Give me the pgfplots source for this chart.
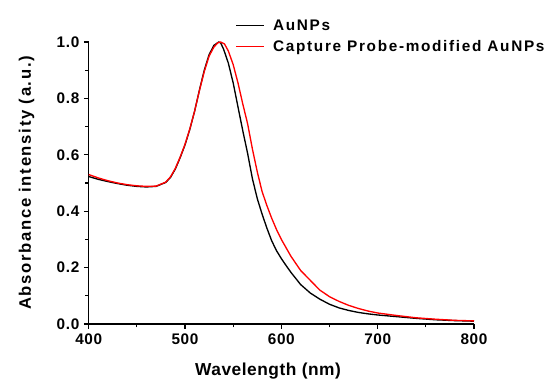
\documentclass[border=0pt]{standalone}
\usepackage{pgfplots}
\pgfplotsset{compat=1.18}
\usepackage{fontspec}
\setmainfont{Liberation Sans}
\begin{document}
\begin{tikzpicture}[x=1pt,y=1pt]
\useasboundingbox (-66.5,-45.75) rectangle (347.5,243);
\begin{axis}[
  at={(0,0)}, anchor=origin,
  scale only axis, width=289pt, height=211.5pt,
  xmin=400, xmax=800, ymin=0, ymax=1.0,
  axis x line*=bottom, axis y line*=left,
  xtick={400,500,...,800}, ytick={0,0.2,...,1.0},
  minor x tick num=1, minor y tick num=1,
  tick align=outside,
  major tick length=3.5pt, minor tick length=2.5pt,
  every tick/.style={black, line width=0.8pt},
  axis line style={line width=1pt},
  /pgf/number format/assume math mode=true,
  /pgf/number format/fixed, /pgf/number format/fixed zerofill, /pgf/number format/precision=1,
  xticklabel style={/pgf/number format/precision=0, /pgf/number format/fixed zerofill=false, /pgf/number format/1000 sep={}},
  tick label style={font=\bfseries\fontsize{11.5}{13}\selectfont\addfontfeatures{LetterSpace=4}},
  xlabel={Wavelength (nm)}, ylabel={Absorbance intensity (a.u.)},
  xlabel style={font=\bfseries\fontsize{13}{15}\selectfont\addfontfeatures{LetterSpace=3}, yshift=-7pt, xshift=-10pt},
  ylabel style={font=\bfseries\fontsize{12.5}{14}\selectfont\addfontfeatures{LetterSpace=10}, yshift=10pt},
  legend style={draw=none, fill=none, at={(0.38,1.09)}, anchor=north west, font=\bfseries\fontsize{11.5}{13}\selectfont\addfontfeatures{LetterSpace=11}, row sep=2pt, inner sep=0pt, nodes={inner xsep=6pt}},
  legend cell align=left,
  legend image code/.code={\draw[#1] (0cm,0cm) -- (0.75cm,0cm);},
  clip=false,
]
\addplot[black, line width=1pt] coordinates {
(400,0.523)(410,0.513)(420,0.505)(430,0.498)(440,0.492)(450,0.488)(460,0.486)(470,0.488)
(480,0.502)(485,0.520)(490,0.550)(495,0.590)(500,0.635)(505,0.690)(510,0.755)(515,0.830)
(520,0.900)(525,0.955)(530,0.988)(535,1.0)(537,0.997)(540,0.975)(545,0.925)(550,0.855)
(555,0.77)(560,0.685)(565,0.605)(570,0.515)(575,0.445)(580,0.39)(585,0.34)(590,0.295)
(595,0.26)(600,0.232)(605,0.207)(610,0.183)(620,0.14)(630,0.11)(640,0.088)(650,0.07)
(660,0.057)(670,0.048)(680,0.041)(690,0.036)(700,0.032)(720,0.026)(740,0.02)(760,0.015)
(780,0.012)(800,0.01)
};
\addlegendentry{AuNPs}
\addplot[red, line width=1pt] coordinates {
(400,0.530)(410,0.518)(420,0.508)(430,0.500)(440,0.494)(450,0.490)(460,0.488)(470,0.489)
(480,0.503)(485,0.522)(490,0.552)(495,0.592)(500,0.637)(505,0.692)(510,0.755)(515,0.828)
(520,0.895)(525,0.950)(530,0.982)(534,0.997)(537,1.0)(541,0.993)(545,0.968)(550,0.92)
(555,0.855)(560,0.78)(565,0.71)(570,0.62)(575,0.54)(580,0.47)(585,0.42)(590,0.375)
(595,0.335)(600,0.30)(605,0.27)(610,0.24)(620,0.19)(630,0.155)(640,0.12)(650,0.097)
(660,0.08)(670,0.066)(680,0.055)(690,0.046)(700,0.039)(720,0.03)(740,0.022)(760,0.017)
(780,0.013)(800,0.011)
};
\addlegendentry{Capture Probe-modified AuNPs}
\end{axis}
\end{tikzpicture}
\end{document}
